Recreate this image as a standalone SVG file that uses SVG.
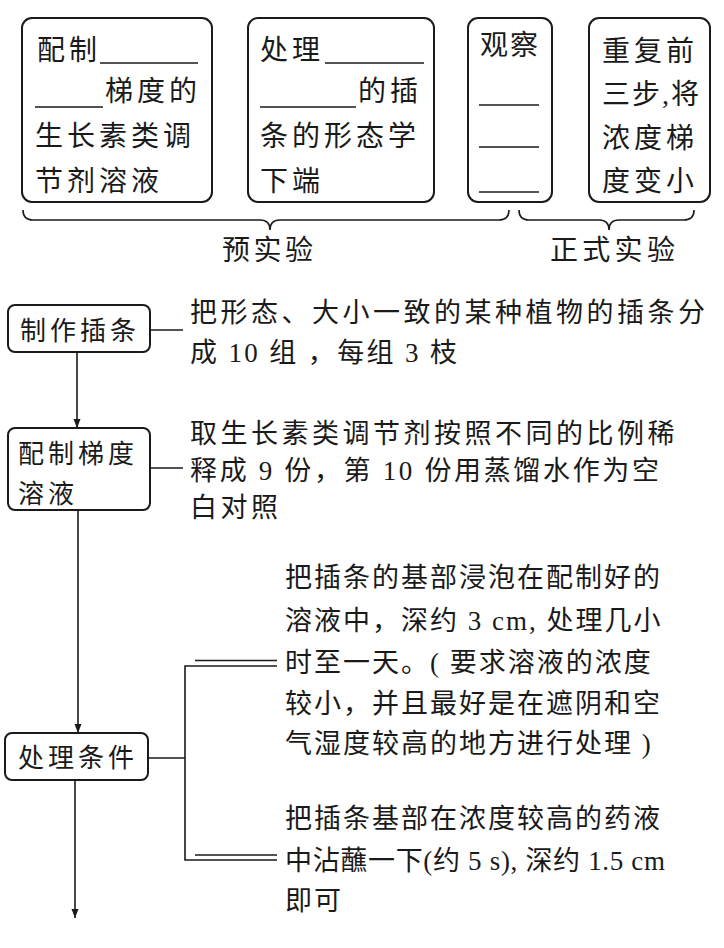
<svg xmlns="http://www.w3.org/2000/svg" width="724" height="948" viewBox="0 0 724 948">
<defs>
<style>
.t{font-family:"Liberation Serif","Noto Sans CJK SC",serif;fill:#1a1a1a}
.b{font-size:28px;letter-spacing:4px}
.f{font-size:26px;letter-spacing:4px}
.d{font-size:27px;letter-spacing:3.5px}
.e{font-size:27px;letter-spacing:2px}
.box{fill:#fff;stroke:#1a1a1a;stroke-width:2}
.ln{fill:none;stroke:#1a1a1a;stroke-width:1.6}
</style>
<marker id="ah" markerWidth="10" markerHeight="10" refX="9" refY="5" orient="auto" markerUnits="userSpaceOnUse" viewBox="0 0 10 10">
<path d="M0,1.5 L9,5 L0,8.5 Z" fill="#1a1a1a"/>
</marker>
</defs>
<rect width="724" height="948" fill="#fff"/>

<g id="connectors">
<path class="ln" d="M23,210 Q23,220 33,220 L260,220 Q270,220 270,230 Q270,220 280,220 L499,220 Q509,220 509,210"/>
<path class="ln" d="M519,210 Q519,220 529,220 L599,220 Q609,220 609,230 Q609,220 619,220 L684,220 Q694,220 694,210"/>
<path class="ln" d="M77,352 L77,428" marker-end="url(#ah)"/>
<path class="ln" d="M78,510 L78,733" marker-end="url(#ah)"/>
<path class="ln" d="M75,780 L75,918" marker-end="url(#ah)"/>
<line class="ln" x1="150" y1="330" x2="183" y2="330"/>
<line class="ln" x1="150" y1="468" x2="183" y2="468"/>
<line class="ln" x1="148" y1="758" x2="185" y2="758"/>
<path class="ln" d="M277,666 L185,666 L185,860 L277,860"/>
<line class="ln" x1="195" y1="660.5" x2="277" y2="660.5"/>
<line class="ln" x1="195" y1="855" x2="277" y2="855"/>
</g>

<g id="box-prepare">
<rect class="box" x="22" y="18" width="190" height="184" rx="10"/>
<text class="t b" x="37" y="60">配制</text>
<line class="ln" x1="100" y1="63" x2="198" y2="63"/>
<line class="ln" x1="35" y1="107" x2="103" y2="107"/>
<text class="t b" x="105" y="101">梯度的</text>
<text class="t b" x="35" y="146">生长素类调</text>
<text class="t b" x="35" y="191">节剂溶液</text>
</g>

<g id="box-treat">
<rect class="box" x="248" y="18" width="186" height="184" rx="10"/>
<text class="t b" x="260" y="60">处理</text>
<line class="ln" x1="325" y1="63" x2="424" y2="63"/>
<line class="ln" x1="260" y1="107" x2="356" y2="107"/>
<text class="t b" x="358" y="101">的插</text>
<text class="t b" x="260" y="146">条的形态学</text>
<text class="t b" x="260" y="191">下端</text>
</g>

<g id="box-observe">
<rect class="box" x="468" y="18" width="84" height="184" rx="10"/>
<text class="t b" x="480" y="55" style="letter-spacing:2px">观察</text>
<line class="ln" x1="479" y1="105" x2="539" y2="105"/>
<line class="ln" x1="479" y1="147" x2="539" y2="147"/>
<line class="ln" x1="479" y1="192" x2="539" y2="192"/>
</g>

<g id="box-repeat">
<rect class="box" x="589" y="18" width="121" height="184" rx="10"/>
<text class="t b" x="602" y="61">重复前</text>
<text class="t b" x="602" y="104" style="letter-spacing:2px">三步,将</text>
<text class="t b" x="602" y="148">浓度梯</text>
<text class="t b" x="602" y="191">度变小</text>
</g>

<g id="label-pre">
<text class="t b" x="222" y="260" style="letter-spacing:3.5px">预实验</text>
</g>
<g id="label-formal">
<text class="t b" x="550" y="260" style="letter-spacing:4.3px">正式实验</text>
</g>

<g id="step-cuttings">
<rect class="box" x="8" y="305" width="142" height="47" rx="7"/>
<text class="t f" x="20" y="340">制作插条</text>
<text class="t d" x="190" y="322">把形态、大小一致的某种植物的插条分</text>
<text class="t d" x="190" y="362" style="letter-spacing:0" textLength="267" lengthAdjust="spacing">成 10 组 ，每组 3 枝</text>
</g>

<g id="step-solution">
<rect class="box" x="8" y="428" width="142" height="82" rx="7"/>
<text class="t f" x="18" y="463">配制梯度</text>
<text class="t f" x="18" y="503">溶液</text>
<text class="t d" x="190" y="443">取生长素类调节剂按照不同的比例稀</text>
<text class="t d" x="190" y="480" style="letter-spacing:0" textLength="469" lengthAdjust="spacing">释成 9 份，第 10 份用蒸馏水作为空</text>
<text class="t d" x="190" y="517">白对照</text>
</g>

<g id="step-treat">
<rect class="box" x="5" y="733" width="143" height="47" rx="7"/>
<text class="t f" x="18" y="767">处理条件</text>
</g>

<g id="method-soak">
<text class="t e" x="285" y="587">把插条的基部浸泡在配制好的</text>
<text class="t e" x="285" y="630">溶液中，深约 3 cm, 处理几小</text>
<text class="t e" x="285" y="672">时至一天。( 要求溶液的浓度</text>
<text class="t e" x="285" y="713">较小，并且最好是在遮阴和空</text>
<text class="t e" x="285" y="753">气湿度较高的地方进行处理 )</text>
</g>

<g id="method-dip">
<text class="t e" x="285" y="828">把插条基部在浓度较高的药液</text>
<text class="t e" x="285" y="870" style="letter-spacing:0" textLength="380" lengthAdjust="spacing">中沾蘸一下(约 5 s), 深约 1.5 cm</text>
<text class="t e" x="285" y="910">即可</text>
</g>
</svg>
